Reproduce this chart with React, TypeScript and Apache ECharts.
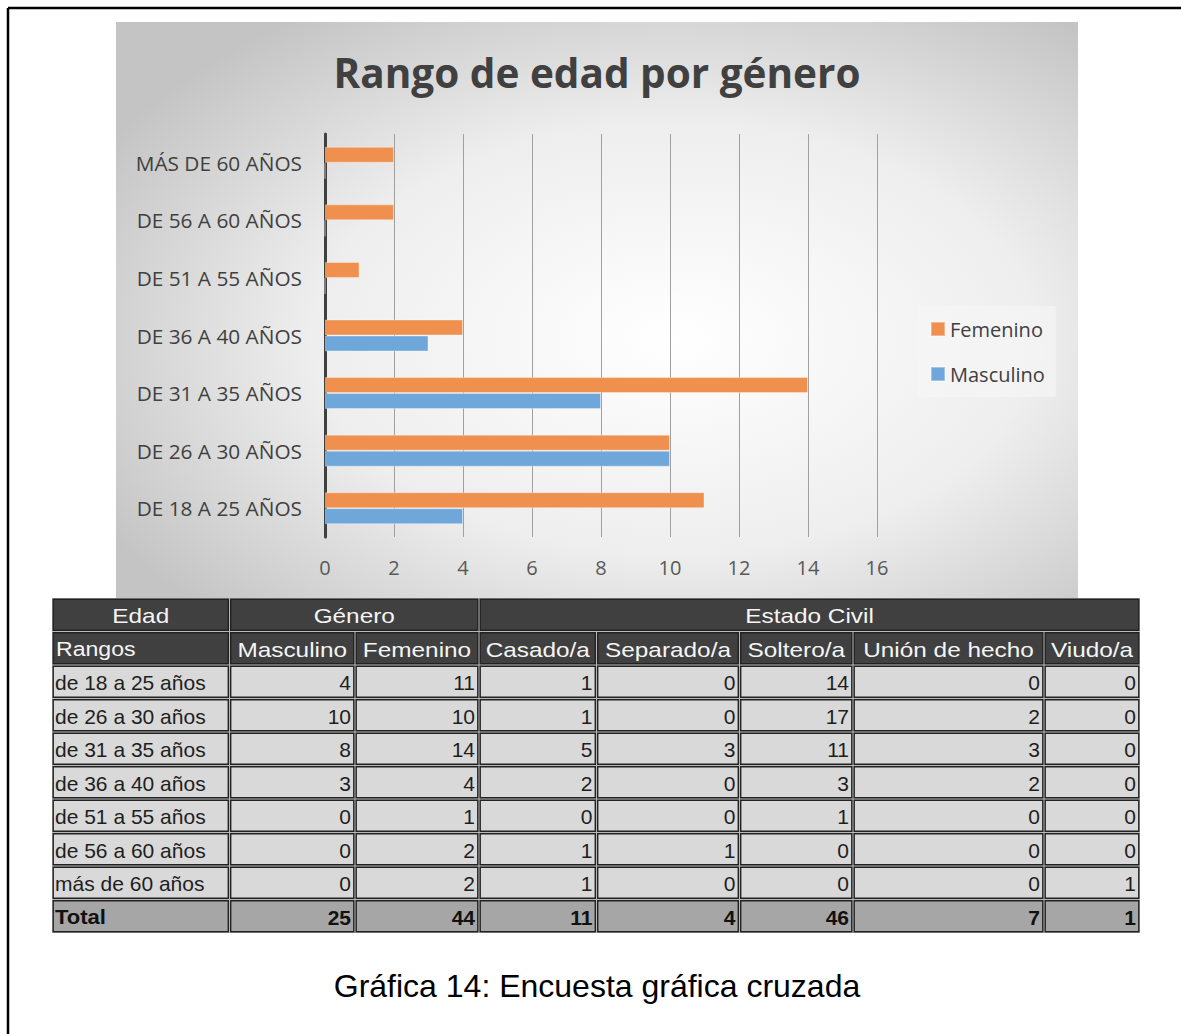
import React, { useEffect, useRef } from 'react';
import * as echarts from 'echarts';

// ---- Chart data ----
const chartTitle = 'Rango de edad por género';
const chartCategories = [
  'DE 18 A 25 AÑOS',
  'DE 26 A 30 AÑOS',
  'DE 31 A 35 AÑOS',
  'DE 36 A 40 AÑOS',
  'DE 51 A 55 AÑOS',
  'DE 56 A 60 AÑOS',
  'MÁS DE 60 AÑOS',
];
const femenino = [11, 10, 14, 4, 1, 2, 2];
const masculino = [4, 10, 8, 3, 0, 0, 0];
const seriesNames = ['Femenino', 'Masculino'];

// ---- Table data ----
const headerGroups = ['Edad', 'Género', 'Estado Civil'];
const headerGroupSpans = [1, 2, 5];
const headerColumns = ['Rangos', 'Masculino', 'Femenino', 'Casado/a', 'Separado/a', 'Soltero/a', 'Unión de hecho', 'Viudo/a'];
const tableRanges = ['de 18 a 25 años', 'de 26 a 30 años', 'de 31 a 35 años', 'de 36 a 40 años', 'de 51 a 55 años', 'de 56 a 60 años', 'más de 60 años'];
const tableMasculino = [4, 10, 8, 3, 0, 0, 0];
const tableFemenino = [11, 10, 14, 4, 1, 2, 2];
const tableCasado = [1, 1, 5, 2, 0, 1, 1];
const tableSeparado = [0, 0, 3, 0, 0, 1, 0];
const tableSoltero = [14, 17, 11, 3, 1, 0, 0];
const tableUnion = [0, 2, 3, 2, 0, 0, 0];
const tableViudo = [0, 0, 0, 0, 0, 0, 1];
const totalLabel = 'Total';
const tableTotals = [25, 44, 11, 4, 46, 7, 1];
const caption = 'Gráfica 14: Encuesta gráfica cruzada';

// ---- Layout (positions only) ----
const W = 1181;
const H = 1034;
const colEdges = [52, 229.5, 355, 479, 596.5, 739.5, 853, 1044, 1140];
const rowTop = 598;
const rowH = 33.5;

const CAL = '"Open Sans", "Noto Sans", sans-serif';
const ARIAL = '"Liberation Sans", Arial, sans-serif';

function cellRect(x0: number, y0: number, x1: number, y1: number, fill: string) {
  return {
    type: 'rect',
    silent: true,
    shape: { x: x0 + 1.2, y: y0 + 1.2, width: x1 - x0 - 2.4, height: y1 - y0 - 2.4 },
    style: { fill, stroke: '#222222', lineWidth: 1.4 },
  };
}

function cellText(x: number, y: number, text: string, align: string, color: string, bold: boolean, scaleX: number) {
  return {
    type: 'text',
    silent: true,
    x,
    y,
    scaleX,
    style: {
      text,
      x: 0,
      y: 0,
      textAlign: align,
      textVerticalAlign: 'middle',
      fontFamily: ARIAL,
      fontSize: 21,
      fontWeight: bold ? 'bold' : 'normal',
      fill: color,
    },
  };
}

function buildTable() {
  const els: any[] = [];
  const tableBottom = rowTop + rowH * 10;
  els.push({
    type: 'rect',
    silent: true,
    shape: { x: colEdges[0], y: rowTop, width: colEdges[8] - colEdges[0], height: tableBottom - rowTop },
    style: { fill: '#b8b8b8' },
  });
  // header row 1
  let c = 0;
  headerGroups.forEach((g, i) => {
    const x0 = colEdges[c];
    const x1 = colEdges[c + headerGroupSpans[i]];
    c += headerGroupSpans[i];
    els.push(cellRect(x0, rowTop, x1, rowTop + rowH, '#404040'));
    els.push(cellText((x0 + x1) / 2, rowTop + rowH / 2 + 1, g, 'center', '#f5f5f5', false, 1.16));
  });
  // header row 2
  headerColumns.forEach((h, i) => {
    const x0 = colEdges[i];
    const x1 = colEdges[i + 1];
    const y0 = rowTop + rowH;
    els.push(cellRect(x0, y0, x1, y0 + rowH, '#404040'));
    if (i === 0) els.push(cellText(x0 + 4, y0 + rowH / 2 + 1, h, 'left', '#f5f5f5', false, 1.1));
    else els.push(cellText((x0 + x1) / 2, y0 + rowH / 2 + 1, h, 'center', '#f5f5f5', false, 1.16));
  });
  const cols = [tableMasculino, tableFemenino, tableCasado, tableSeparado, tableSoltero, tableUnion, tableViudo];
  tableRanges.forEach((r, ri) => {
    const y0 = rowTop + rowH * (ri + 2);
    const yc = y0 + rowH / 2 + 1;
    els.push(cellRect(colEdges[0], y0, colEdges[1], y0 + rowH, '#d9d9d9'));
    els.push(cellText(colEdges[0] + 3, yc, r, 'left', '#1e1e1e', false, 1));
    cols.forEach((col, ci) => {
      const x0 = colEdges[ci + 1];
      const x1 = colEdges[ci + 2];
      els.push(cellRect(x0, y0, x1, y0 + rowH, '#d9d9d9'));
      els.push(cellText(x1 - 4, yc, String(col[ri]), 'right', '#1e1e1e', false, 1));
    });
  });
  // total row
  const yT = rowTop + rowH * 9;
  els.push(cellRect(colEdges[0], yT, colEdges[1], yT + rowH, '#a6a6a6'));
  els.push(cellText(colEdges[0] + 3, yT + rowH / 2 + 1, totalLabel, 'left', '#111111', true, 1.05));
  tableTotals.forEach((t, ci) => {
    const x0 = colEdges[ci + 1];
    const x1 = colEdges[ci + 2];
    els.push(cellRect(x0, yT, x1, yT + rowH, '#a6a6a6'));
    els.push(cellText(x1 - 4, yT + rowH / 2 + 1, String(t), 'right', '#111111', true, 1));
  });
  return els;
}

export default function App() {
  const ref = useRef<HTMLDivElement>(null);
  useEffect(() => {
    if (!ref.current) return;
    const chart = echarts.init(ref.current, undefined, { renderer: 'svg', width: W, height: H });
    const graphic: any[] = [
      {
        type: 'rect',
        silent: true,
        z: -100,
        shape: { x: 116, y: 22, width: 962, height: 576 },
        style: {
          fill: new echarts.graphic.RadialGradient(0.58, 0.55, 0.68, [
            { offset: 0, color: '#ffffff' },
            { offset: 0.55, color: '#eeeeee' },
            { offset: 1, color: '#c4c4c4' },
          ]),
        },
      },
      {
        type: 'line',
        silent: true,
        shape: { x1: 8, y1: 8, x2: W, y2: 8 },
        style: { stroke: '#000000', lineWidth: 2.5 },
      },
      {
        type: 'line',
        silent: true,
        shape: { x1: 8, y1: 8, x2: 8, y2: H },
        style: { stroke: '#000000', lineWidth: 2.5 },
      },
      ...buildTable(),
      {
        type: 'text',
        silent: true,
        x: 597,
        y: 986,
        style: {
          text: caption,
          textAlign: 'center',
          textVerticalAlign: 'middle',
          fontFamily: ARIAL,
          fontSize: 32,
          fill: '#000000',
        },
      },
    ];
    chart.setOption({
      animation: false,
      backgroundColor: '#ffffff',
      title: {
        text: chartTitle,
        left: 592,
        top: 47,
        textAlign: 'center',
        textStyle: { fontFamily: CAL, fontSize: 40.5, fontWeight: 'bold', color: '#404040' },
      },
      legend: {
        data: seriesNames,
        orient: 'vertical',
        left: 918,
        top: 306,
        padding: [13, 11, 13, 12],
        backgroundColor: 'rgba(246,246,246,0.6)',
        itemWidth: 14,
        itemHeight: 14,
        itemGap: 25,
        icon: 'rect',
        textStyle: { fontFamily: CAL, fontSize: 20, color: '#404040', lineHeight: 20 },
      },
      grid: { left: 325, right: W - 877, top: 134, bottom: H - 537, containLabel: false },
      xAxis: {
        type: 'value',
        min: 0,
        max: 16,
        interval: 2,
        axisLine: { show: false },
        axisTick: { show: false },
        splitLine: { show: true, lineStyle: { color: '#a0a0a0', width: 1 } },
        axisLabel: { fontFamily: CAL, fontSize: 20, color: '#595959', margin: 20 },
      },
      yAxis: {
        type: 'category',
        data: chartCategories,
        axisLine: { show: true, lineStyle: { color: '#404040', width: 3 } },
        axisTick: { show: false },
        axisLabel: { fontFamily: CAL, fontSize: 20.8, color: '#404040', margin: 23 },
      },
      series: [
        {
          name: seriesNames[0],
          type: 'bar',
          data: femenino,
          barWidth: 16,
          barGap: '0%',
          itemStyle: { color: '#F0904F', borderColor: 'rgba(255,255,255,0.35)', borderWidth: 1 },
        },
        {
          name: seriesNames[1],
          type: 'bar',
          data: masculino,
          barWidth: 16,
          barGap: '0%',
          itemStyle: { color: '#6FA7DA', borderColor: 'rgba(255,255,255,0.35)', borderWidth: 1 },
        },
      ],
      graphic,
    });
    return () => chart.dispose();
  }, []);
  return <div ref={ref} style={{ position: 'absolute', left: 0, top: 0, width: W, height: H }} />;
}
